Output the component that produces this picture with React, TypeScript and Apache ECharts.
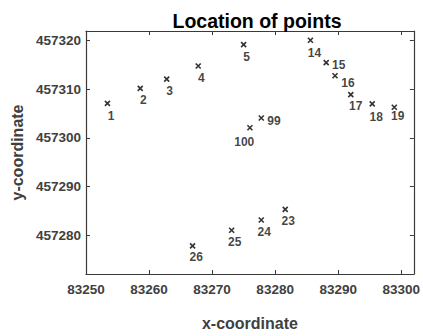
import React, { useEffect, useRef } from "react";
import * as echarts from "echarts";

const pointNames = ["1", "2", "3", "4", "5", "14", "15", "16", "17", "18", "19", "99", "100", "23", "24", "25", "26"];
const xValues = [83253.4, 83258.6, 83262.8, 83267.8, 83275.0, 83285.6, 83288.1, 83289.5, 83292.0, 83295.4, 83298.9, 83277.8, 83276.0, 83281.6, 83277.8, 83273.1, 83266.9];
const yValues = [457307.1, 457310.2, 457312.1, 457314.8, 457319.2, 457320.1, 457315.5, 457312.8, 457308.9, 457307.0, 457306.3, 457304.1, 457302.1, 457285.3, 457283.1, 457281.0, 457277.8];
const xTicks = [83250, 83260, 83270, 83280, 83290, 83300];
const yTicks = [457280, 457290, 457300, 457310, 457320];

const defaultLabelOffset = [3, 12];
const labelOffsets: Record<string, number[]> = {
  "1": [3.7, 13],
  "14": [4, 12.7],
  "15": [12.5, 2.4],
  "16": [13, 7],
  "17": [5, 11],
  "18": [4, 12.6],
  "19": [3.5, 9],
  "99": [12.7, 3],
  "100": [-5.7, 14.7],
  "26": [3.7, 11],
};

const FONT = "'Liberation Sans', Arial, Helvetica, sans-serif";
const AXIS_COLOR = "#3a3a3a";
const plain = (v: number) => String(v);

export default function App() {
  const ref = useRef<HTMLDivElement>(null);
  useEffect(() => {
    if (!ref.current) return;
    const chart = echarts.init(ref.current, undefined, { renderer: "svg" });
    const data = pointNames.map((n, i) => ({
      name: n,
      value: [xValues[i], yValues[i]],
      label: { offset: labelOffsets[n] || defaultLabelOffset },
    }));
    const axisCommon = {
      type: "value" as const,
      splitLine: { show: false },
      axisLine: { show: true, onZero: false, lineStyle: { color: AXIS_COLOR, width: 1.2 } },
      axisTick: { show: true, inside: true, length: 4, lineStyle: { color: AXIS_COLOR } },
    };
    chart.setOption({
      animation: false,
      backgroundColor: "#ffffff",
      title: {
        text: "Location of points",
        left: 252,
        textAlign: "center",
        top: 6,
        textStyle: { fontFamily: FONT, fontSize: 19.5, fontWeight: "bold", color: "#000" },
      },
      grid: { left: 86, top: 31, right: 7, bottom: 55 },
      xAxis: [
        {
          ...axisCommon,
          position: "bottom",
          min: 83250,
          max: 83302,
          axisTick: { ...axisCommon.axisTick, customValues: xTicks },
          axisLabel: {
            customValues: xTicks,
            formatter: plain,
            fontFamily: FONT,
            fontSize: 13.5,
            fontWeight: "bold",
            color: "#404040",
            margin: 8,
          },
          name: "x-coordinate",
          nameLocation: "middle",
          nameGap: 41,
          nameTextStyle: { fontFamily: FONT, fontSize: 16, fontWeight: "bold", color: "#404040" },
        },
        {
          ...axisCommon,
          position: "top",
          min: 83250,
          max: 83302,
          axisTick: { ...axisCommon.axisTick, customValues: xTicks },
          axisLabel: { show: false },
        },
      ],
      yAxis: [
        {
          ...axisCommon,
          position: "left",
          min: 457272,
          max: 457322,
          axisTick: { ...axisCommon.axisTick, customValues: yTicks },
          axisLabel: {
            customValues: yTicks,
            formatter: plain,
            fontFamily: FONT,
            fontSize: 13.5,
            fontWeight: "bold",
            color: "#404040",
            margin: 5,
          },
          name: "y-coordinate",
          nameLocation: "middle",
          nameGap: 58,
          nameTextStyle: { fontFamily: FONT, fontSize: 16, fontWeight: "bold", color: "#404040" },
        },
        {
          ...axisCommon,
          position: "right",
          min: 457272,
          max: 457322,
          axisTick: { ...axisCommon.axisTick, customValues: yTicks },
          axisLabel: { show: false },
        },
      ],
      series: [
        {
          type: "scatter",
          xAxisIndex: 0,
          yAxisIndex: 0,
          symbol: "path://M0,0L10,10M10,0L0,10",
          symbolSize: 5,
          itemStyle: { color: "transparent", borderColor: "#000", borderWidth: 1.6 },
          label: {
            show: true,
            formatter: "{b}",
            position: "inside",
            align: "center",
            verticalAlign: "middle",
            fontFamily: FONT,
            fontSize: 12,
            fontWeight: "bold",
            color: "#111",
          },
          data,
        },
      ],
    });
    return () => chart.dispose();
  }, []);
  return (
    <div
      ref={ref}
      style={{ position: "fixed", left: 0, top: 0, width: 423, height: 336, background: "#fff" }}
    />
  );
}
